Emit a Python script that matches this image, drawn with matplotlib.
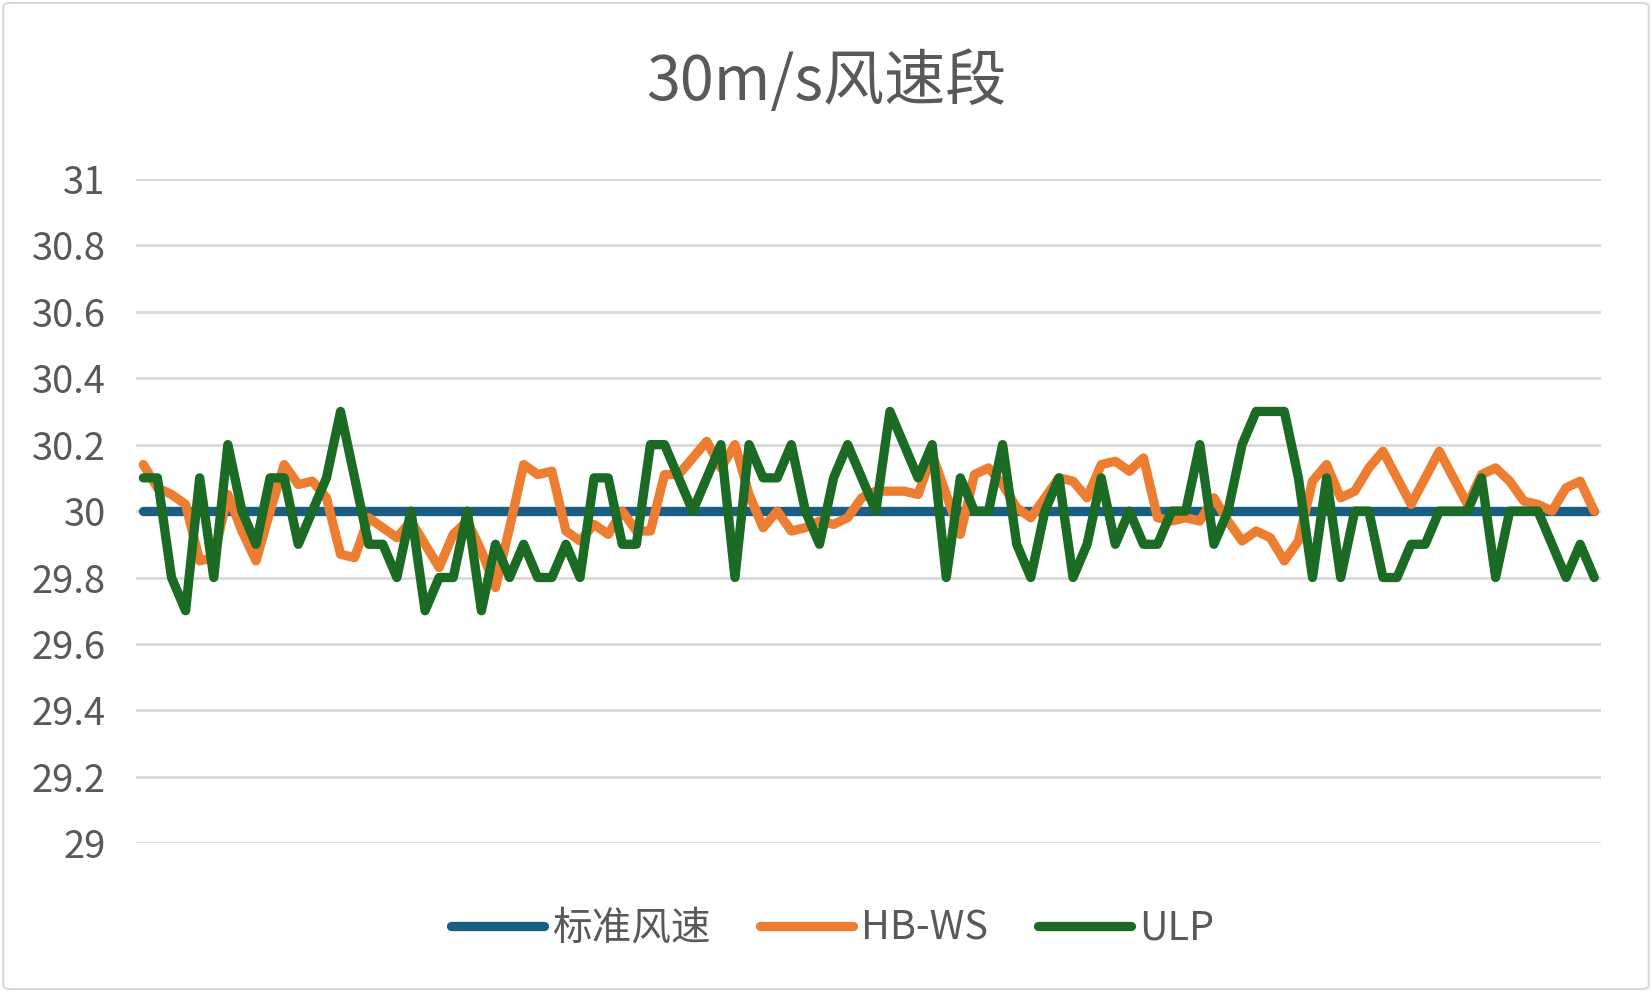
import matplotlib
matplotlib.use("Agg")
import matplotlib.pyplot as plt
from matplotlib.patches import FancyBboxPatch

plt.rcParams['font.family'] = ['Noto Sans CJK SC', 'DejaVu Sans']

title = "30m/s风速段"
series_names = ["标准风速", "HB-WS", "ULP"]

hbws = [30.14, 30.07, 30.05, 30.02, 29.85, 29.86, 30.05, 29.94, 29.85, 30.00,
        30.14, 30.08, 30.09, 30.04, 29.87, 29.86, 29.98, 29.95, 29.92, 29.97,
        29.90, 29.83, 29.93, 29.97, 29.88, 29.77, 29.95, 30.14, 30.11, 30.12,
        29.94, 29.91, 29.96, 29.93, 30.00, 29.94, 29.94, 30.11, 30.11, 30.16,
        30.21, 30.13, 30.20, 30.05, 29.95, 30.00, 29.94, 29.95, 29.97, 29.96,
        29.98, 30.04, 30.06, 30.06, 30.06, 30.05, 30.17, 30.05, 29.93, 30.11,
        30.13, 30.08, 30.01, 29.98, 30.04, 30.10, 30.09, 30.04, 30.14, 30.15,
        30.12, 30.16, 29.98, 29.97, 29.98, 29.97, 30.04, 29.97, 29.91, 29.94,
        29.92, 29.85, 29.91, 30.09, 30.14, 30.04, 30.06, 30.13, 30.18, 30.10,
        30.02, 30.10, 30.18, 30.10, 30.02, 30.11, 30.13, 30.09, 30.03, 30.02,
        30.00, 30.07, 30.09, 30.00]

ulp = [30.1, 30.1, 29.8, 29.7, 30.1, 29.8, 30.2, 30.0, 29.9, 30.1,
       30.1, 29.9, 30.0, 30.1, 30.3, 30.1, 29.9, 29.9, 29.8, 30.0,
       29.7, 29.8, 29.8, 30.0, 29.7, 29.9, 29.8, 29.9, 29.8, 29.8,
       29.9, 29.8, 30.1, 30.1, 29.9, 29.9, 30.2, 30.2, 30.1, 30.0,
       30.1, 30.2, 29.8, 30.2, 30.1, 30.1, 30.2, 30.0, 29.9, 30.1,
       30.2, 30.1, 30.0, 30.3, 30.2, 30.1, 30.2, 29.8, 30.1, 30.0,
       30.0, 30.2, 29.9, 29.8, 30.0, 30.1, 29.8, 29.9, 30.1, 29.9,
       30.0, 29.9, 29.9, 30.0, 30.0, 30.2, 29.9, 30.0, 30.2, 30.3,
       30.3, 30.3, 30.1, 29.8, 30.1, 29.8, 30.0, 30.0, 29.8, 29.8,
       29.9, 29.9, 30.0, 30.0, 30.0, 30.1, 29.8, 30.0, 30.0, 30.0,
       29.9, 29.8, 29.9, 29.8]

standard = [30.0] * len(ulp)

yticks = [29, 29.2, 29.4, 29.6, 29.8, 30, 30.2, 30.4, 30.6, 30.8, 31]
ytick_labels = ["29", "29.2", "29.4", "29.6", "29.8", "30", "30.2", "30.4", "30.6", "30.8", "31"]

colors = ["#1A5E84", "#ED7D31", "#1B6B24"]
text_color = "#595959"

fig = plt.figure(figsize=(16.52, 9.92), dpi=100)
fig.patch.set_facecolor("white")

border = FancyBboxPatch((0.002, 0.003), 0.996, 0.994, boxstyle="round,pad=0,rounding_size=0.004",
                        transform=fig.transFigure, facecolor="none", edgecolor="#D9D9D9",
                        linewidth=1.5, zorder=0)
fig.patches.append(border)

ax = fig.add_axes([0.0825, 0.150, 0.8868, 0.6696])
x = list(range(len(ulp)))
lw = 6.7
ax.plot(x, standard, color=colors[0], lw=lw, solid_capstyle="round", solid_joinstyle="round",
        label=series_names[0], zorder=3)
ax.plot(x, hbws, color=colors[1], lw=lw, solid_capstyle="round", solid_joinstyle="round",
        label=series_names[1], zorder=4)
ax.plot(x, ulp, color=colors[2], lw=lw, solid_capstyle="round", solid_joinstyle="round",
        label=series_names[2], zorder=5)

ax.set_xlim(-0.5, len(ulp) - 0.5)
ax.set_ylim(29, 31)
ax.set_yticks(yticks)
ax.set_yticklabels(ytick_labels, fontsize=27.5, color=text_color)
ax.set_xticks([])
ax.tick_params(axis="y", length=0, pad=22)
ax.grid(axis="y", color="#D9D9D9", linewidth=2.0, zorder=0)
for s in ax.spines.values():
    s.set_visible(False)
ax.set_axisbelow(True)

fig.text(0.5, 0.917, title, ha="center", va="center", fontsize=44, color=text_color)

leg = fig.legend(loc="center", bbox_to_anchor=(0.504, 0.064), ncol=3, frameon=False,
                 fontsize=28.5, handlelength=2.35, handletextpad=0.2, columnspacing=1.25)
for t in leg.get_texts():
    t.set_color(text_color)

fig.savefig("out.png", dpi=100)
